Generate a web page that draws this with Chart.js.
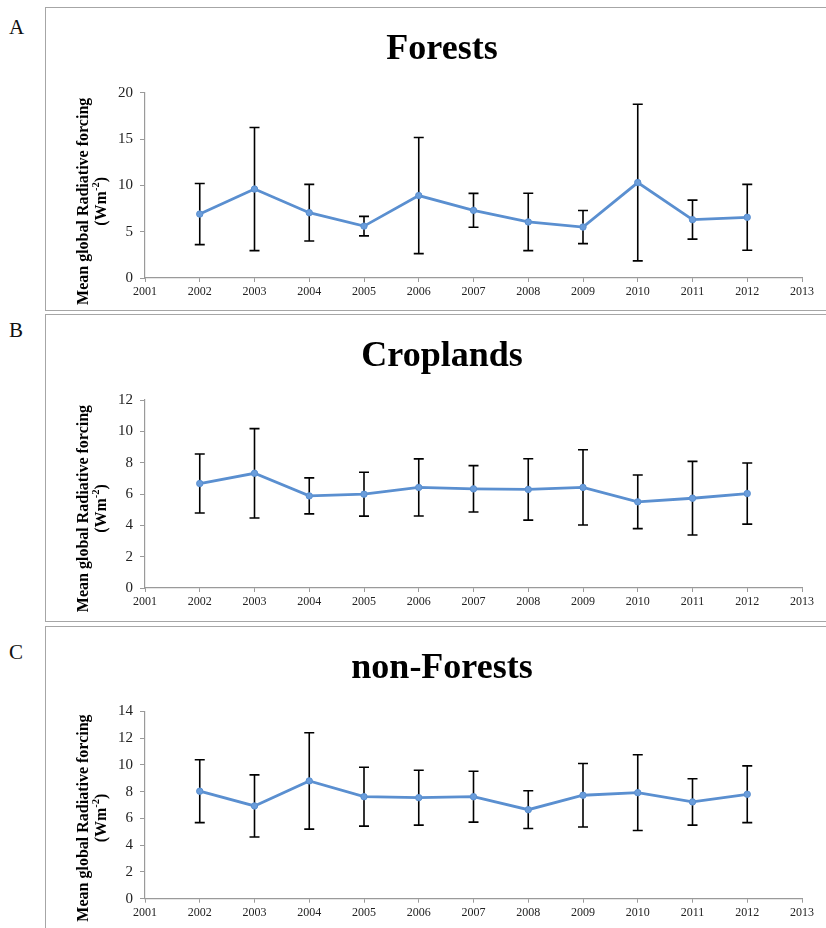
<!DOCTYPE html>
<html>
<head>
<meta charset="utf-8">
<script src="https://cdn.jsdelivr.net/npm/chart.js@4.4.1/dist/chart.umd.min.js"></script>
<style>
  body { margin: 0; background: #fff; width: 826px; height: 928px; overflow: hidden; position: relative; }
  .box { position: absolute; left: 45px; width: 792px; border: 1px solid #a6a6a6; background: #fff; }
  .box canvas { display: block; }
  .tag { position: absolute; left: 9px; font: 21px "Liberation Serif", serif; color: #111; }
</style>
</head>
<body>
<div class="tag" style="top:15px">A</div>
<div class="tag" style="top:318px">B</div>
<div class="tag" style="top:640px">C</div>
<div class="box" style="top:7px;height:302px"><canvas id="forestChart" width="792" height="302"></canvas></div>
<div class="box" style="top:314px;height:306px"><canvas id="cropChart" width="792" height="306"></canvas></div>
<div class="box" style="top:626px;height:320px"><canvas id="nonForestChart" width="792" height="320"></canvas></div>
<script>
// years on the x axis (2001 and 2013 are empty ends)
const years = [2002, 2003, 2004, 2005, 2006, 2007, 2008, 2009, 2010, 2011, 2012];

// Forests: mean and +/- error
const forestMean = [6.9, 9.6, 7.05, 5.6, 8.9, 7.3, 6.05, 5.5, 10.3, 6.3, 6.55];
const forestErr = [3.3, 6.65, 3.05, 1.05, 6.27, 1.83, 3.1, 1.79, 8.45, 2.1, 3.56];

// Croplands
const cropMean = [6.67, 7.32, 5.88, 5.99, 6.42, 6.33, 6.29, 6.42, 5.5, 5.73, 6.03];
const cropErr = [1.88, 2.85, 1.15, 1.4, 1.82, 1.48, 1.96, 2.4, 1.71, 2.35, 1.95];

// non-Forests
const nonForestMean = [8.03, 6.93, 8.8, 7.62, 7.55, 7.62, 6.65, 7.73, 7.92, 7.23, 7.8];
const nonForestErr = [2.35, 2.32, 3.6, 2.2, 2.05, 1.9, 1.41, 2.37, 2.83, 1.73, 2.12];

const axisGrey = '#9a9a9a';
const lineBlue = '#5a8fd0';

// black error bars, drawn under the line
const errorBars = {
    id: 'errorBars',
    beforeDatasetsDraw(chart, args, opts) {
        const { ctx, scales: { x, y } } = chart;
        ctx.save();
        ctx.strokeStyle = '#000';
        ctx.lineWidth = 1.6;
        opts.mean.forEach((m, i) => {
            const px = x.getPixelForValue(years[i]);
            const top = y.getPixelForValue(m + opts.err[i]);
            const bot = y.getPixelForValue(m - opts.err[i]);
            ctx.beginPath();
            ctx.moveTo(px, top); ctx.lineTo(px, bot);
            ctx.moveTo(px - 5, top); ctx.lineTo(px + 5, top);
            ctx.moveTo(px - 5, bot); ctx.lineTo(px + 5, bot);
            ctx.stroke();
        });
        ctx.restore();
    }
};

// rotated two-line y title with a superscript
const yTitle = {
    id: 'yTitle',
    afterDraw(chart, args, opts) {
        const { ctx, chartArea } = chart;
        const cy = (chartArea.top + chartArea.bottom) / 2 + opts.shift;
        const big = 'bold 16px "Liberation Serif", serif';
        const small = 'bold 10.5px "Liberation Serif", serif';
        ctx.save();
        ctx.fillStyle = '#000';
        ctx.textBaseline = 'middle';
        ctx.translate(chartArea.left - 61, cy);
        ctx.rotate(-Math.PI / 2);
        ctx.font = big;
        ctx.textAlign = 'center';
        ctx.fillText('Mean global Radiative forcing', 0, 0);
        // second line: (Wm-2) with raised -2
        const a = '(Wm', b = '-2', c = ')';
        const wa = ctx.measureText(a).width, wc = ctx.measureText(c).width;
        ctx.font = small;
        const wb = ctx.measureText(b).width;
        const sx = -(wa + wb + wc) / 2;
        ctx.textAlign = 'left';
        ctx.font = big;
        ctx.fillText(a, sx, 17.5);
        ctx.font = small;
        ctx.fillText(b, sx + wa, 12.5);
        ctx.font = big;
        ctx.fillText(c, sx + wa + wb, 17.5);
        ctx.restore();
    }
};

function makeChart(id, title, mean, err, yMax, yStep, titleGap, xHeight, shift) {
    const ctx = document.getElementById(id).getContext('2d');
    return new Chart(ctx, {
        type: 'line',
        data: {
            datasets: [{
                data: years.map((yr, i) => ({ x: yr, y: mean[i] })),
                borderColor: lineBlue,
                backgroundColor: '#6a9ddb',
                borderWidth: 2.8,
                pointRadius: 3.2,
                pointBorderWidth: 1,
                pointBorderColor: lineBlue,
                tension: 0
            }]
        },
        options: {
            responsive: false,
            animation: false,
            layout: { padding: { left: 36, right: 36, top: 0, bottom: 0 } },
            plugins: {
                legend: { display: false },
                tooltip: { enabled: false },
                title: {
                    display: true,
                    text: title,
                    color: '#000',
                    font: { family: '"Liberation Serif", serif', size: 36, weight: 'bold', lineHeight: 1.2 },
                    padding: { top: 20, bottom: titleGap }
                },
                errorBars: { mean: mean, err: err },
                yTitle: { shift: shift }
            },
            scales: {
                x: {
                    type: 'linear',
                    min: 2001, max: 2013,
                    grid: { display: true, drawOnChartArea: false, tickLength: 4, color: axisGrey },
                    border: { color: axisGrey, width: 1.2 },
                    ticks: {
                        stepSize: 1,
                        padding: 3,
                        color: '#222',
                        font: { family: '"Liberation Serif", serif', size: 12 },
                        maxRotation: 0,
                        callback: v => String(v)
                    },
                    afterFit: s => { s.height = xHeight; }
                },
                y: {
                    min: 0, max: yMax,
                    grid: { display: true, drawOnChartArea: false, tickLength: 5, color: axisGrey },
                    border: { color: axisGrey, width: 1.2 },
                    ticks: {
                        stepSize: yStep,
                        padding: 7,
                        color: '#222',
                        font: { family: '"Liberation Serif", serif', size: 15 }
                    },
                    afterFit: s => { s.width = 63; }
                }
            }
        },
        plugins: [errorBars, yTitle]
    });
}

makeChart('forestChart', 'Forests', forestMean, forestErr, 20, 5, 21.5, 32, 16);
makeChart('cropChart', 'Croplands', cropMean, cropErr, 12, 2, 21.8, 33, 14.5);
makeChart('nonForestChart', 'non-Forests', nonForestMean, nonForestErr, 14, 2, 21.1, 48.3, 13);
</script>
</body>
</html>
